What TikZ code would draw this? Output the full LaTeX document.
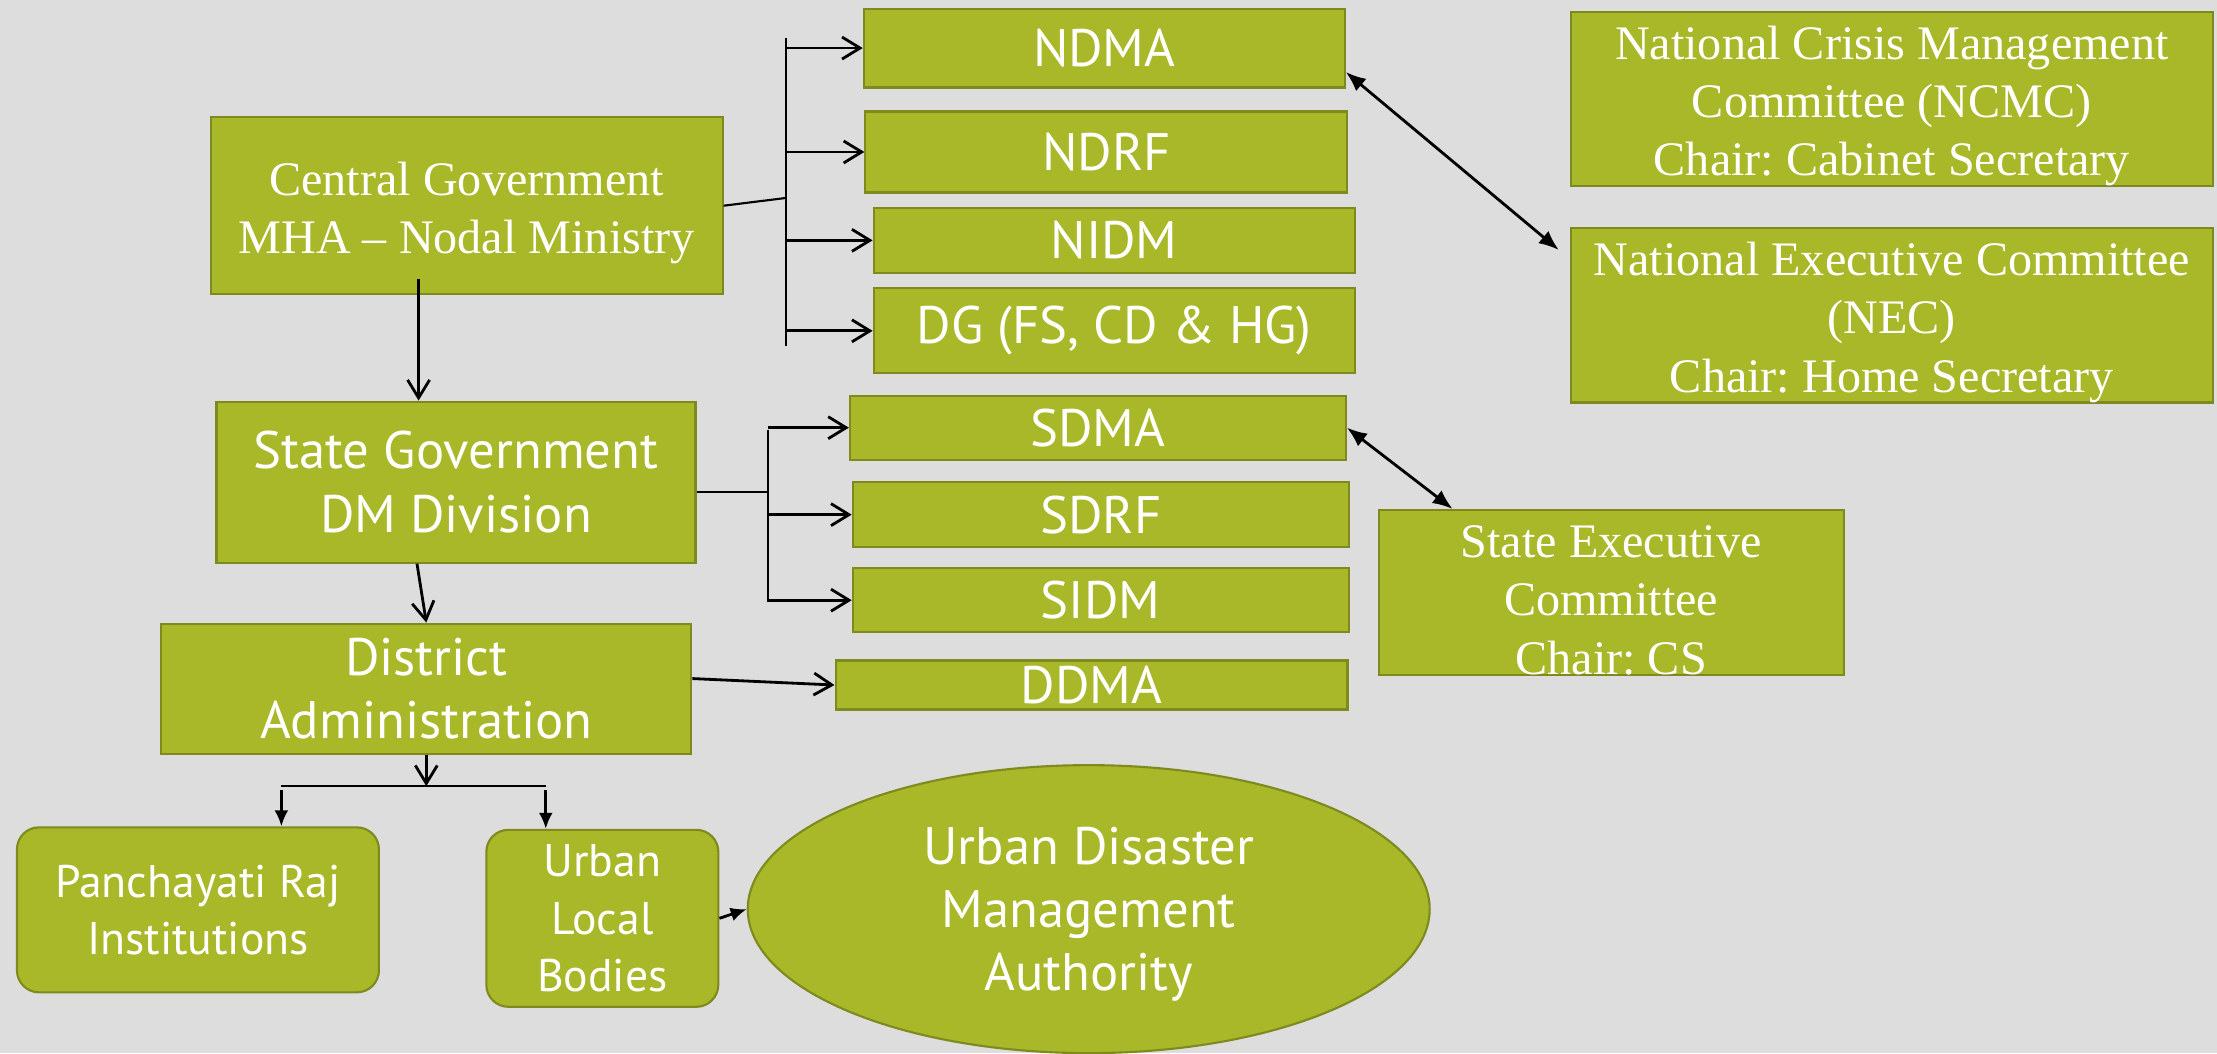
\documentclass[tikz,border=0pt]{standalone}
\usepackage{fontspec}
\setmainfont{Liberation Serif}
\newfontfamily\gillfont{PT Sans}
\usetikzlibrary{arrows.meta,shapes.geometric}
\definecolor{slidebg}{RGB}{221,221,221}
\definecolor{boxgreen}{RGB}{168,184,40}
\definecolor{boxedge}{RGB}{126,138,30}
\newcommand\topgap{\rule{0pt}{13.5pt}}
\frenchspacing
\begin{document}
\begin{tikzpicture}[x=0.1414mm,y=-0.1414mm]
        \tikzstyle{box}=[draw=boxedge,fill=boxgreen,line width=0.6pt,text=white,inner sep=0pt,align=center]
        \tikzstyle{serif}=[box,font=\fontsize{13.7}{16.6}\selectfont]
        \tikzstyle{sans}=[box,font=\gillfont\fontsize{15}{18}\selectfont]
        \tikzstyle{small sans}=[sans,font=\gillfont\fontsize{13}{16.3}\selectfont,rounded corners=2.2mm]
        \tikzstyle{line}=[line width=0.6pt]
        \tikzstyle{arr}=[line width=0.8pt,-{Straight Barb[length=1.8mm,width=2.2mm]}]
        \tikzstyle{farr}=[line width=0.8pt,-{Latex[length=1.6mm,width=1.4mm]}]
        \tikzstyle{dblarr}=[line width=0.8pt,{Latex[length=2mm,width=1.6mm]}-{Latex[length=2mm,width=1.6mm]}]
        \path[use as bounding box,fill=slidebg] (0,0) rectangle (1568,745);
        \node[serif,minimum width=5.12cm,minimum height=1.77cm] (cg) at (330,145.5) {\topgap Central Government\\MHA \textendash{} Nodal Ministry};
        \node[sans,minimum width=4.81cm,minimum height=0.79cm] (ndma) at (781,34) {NDMA};
        \node[sans,minimum width=4.82cm,minimum height=0.81cm] (ndrf) at (782.5,107.5) {NDRF};
        \node[sans,minimum width=4.81cm,minimum height=0.65cm] (nidm) at (788,170) {NIDM};
        \node[sans,minimum width=4.81cm,minimum height=0.85cm] (dg) at (788,234) {DG (FS, CD \& HG)};
        \node[serif,minimum width=6.42cm,minimum height=1.73cm] (ncmc) at (1338,70) {\topgap National Crisis Management\\Committee (NCMC)\\Chair: Cabinet Secretary};
        \node[serif,minimum width=6.42cm,minimum height=1.73cm] (nec) at (1338,223) {\topgap National Executive Committee\\(NEC)\\Chair: Home Secretary};
        \node[sans,minimum width=4.79cm,minimum height=1.61cm] (sg) at (322.5,341) {State Government\\DM Division};
        \node[sans,minimum width=4.96cm,minimum height=0.64cm] (sdma) at (776.5,302.5) {SDMA};
        \node[sans,minimum width=4.96cm,minimum height=0.65cm] (sdrf) at (778.5,364) {SDRF};
        \node[sans,minimum width=4.96cm,minimum height=0.64cm] (sidm) at (778.5,424.5) {SIDM};
        \node[serif,minimum width=4.65cm,minimum height=1.61cm] (sec) at (1139.5,419) {\topgap State Executive\\Committee\\Chair: CS};
        \node[sans,minimum width=5.30cm,minimum height=1.30cm] (da) at (301.5,487) {District\\Administration};
        \node[sans,minimum width=5.12cm,minimum height=0.49cm] (ddma) at (772,484.5) {DDMA};
        \node[small sans,minimum width=3.62cm,minimum height=1.65cm] (pri) at (140,643.5) {Panchayati Raj\\Institutions};
        \node[small sans,minimum width=2.32cm,minimum height=1.77cm] (ulb) at (426,649.5) {Urban\\Local\\Bodies};
        \node[sans,ellipse,minimum width=6.82cm,minimum height=2.88cm] (udma) at (770,643) {\topgap Urban Disaster\\Management\\Authority};
        \coordinate (nt1) at (556,27);
        \coordinate (nt2) at (556,245);
        \coordinate (nj) at (556,140);
        \draw[line] (nt1) -- (nt2);
        \draw[line] (cg.east) -- (nj);
        \draw[arr] (nt1 |- ndma.west) -- (ndma.west);
        \draw[arr] (nt1 |- ndrf.west) -- (ndrf.west);
        \draw[arr] (nt1 |- nidm.west) -- (nidm.west);
        \draw[arr] (nt1 |- dg.west) -- (dg.west);
        \draw[dblarr] ([yshift=-2.4mm]ndma.east) -- ([xshift=-1.1mm,yshift=-2.3mm]nec.north west);
        \coordinate (cgd) at ([xshift=-4.8mm,yshift=1.6mm]cg.south);
        \draw[arr] (cgd) -- (cgd |- sg.north);
        \draw[arr] ([xshift=-3.9mm]sg.south) -- (da.north);
        \coordinate (st1) at (543,304);
        \coordinate (st2) at (543,426);
        \coordinate (sgr) at ([yshift=-1mm]sg.east);
        \draw[line] (st1) -- (st2);
        \draw[line] (sgr) -- (sgr -| st1);
        \draw[arr] (st1 |- sdma.west) -- (sdma.west);
        \draw[arr] (st1 |- sdrf.west) -- (sdrf.west);
        \draw[arr] (st1 |- sidm.west) -- (sidm.west);
        \draw[dblarr] (sdma.east) -- ([xshift=7.5mm]sec.north west);
        \draw[arr] ([yshift=1mm]da.east) -- (ddma.west);
        \coordinate (bl) at (199,556);
        \coordinate (br) at (386,556);
        \draw[arr] (da.south) -- (da.south |- bl);
        \draw[line] (bl) -- (br);
        \draw[farr] ([yshift=-0.4mm]bl) -- (bl |- pri.north);
        \draw[farr] ([yshift=-0.4mm]br) -- (br |- ulb.north);
        \draw[farr] (ulb.east) -- (udma.west);
    \end{tikzpicture}
\end{document}
